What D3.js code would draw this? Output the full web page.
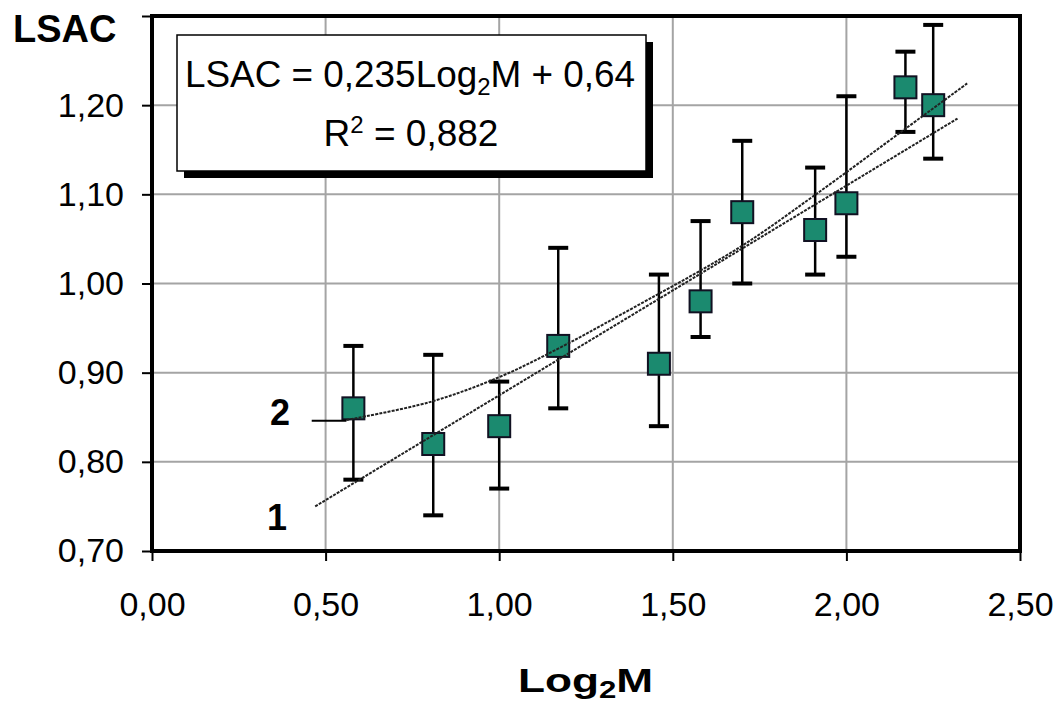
<!DOCTYPE html>
<html>
<head>
<meta charset="utf-8">
<script src="https://cdn.jsdelivr.net/npm/d3@7"></script>
<style>
  html, body { margin: 0; padding: 0; background: #fff; }
  text { font-family: "Liberation Sans", Arial, sans-serif; fill: #000; }
</style>
</head>
<body>
<div id="chart"></div>
<script>
// data
const xVals  = [0.58, 0.81, 1.00, 1.17, 1.46, 1.58, 1.70, 1.91, 2.00, 2.17, 2.25];
const yVals  = [0.86, 0.82, 0.84, 0.93, 0.91, 0.98, 1.08, 1.06, 1.09, 1.22, 1.20];
const yLow   = [0.78, 0.74, 0.77, 0.86, 0.84, 0.94, 1.00, 1.01, 1.03, 1.17, 1.14];
const yHigh  = [0.93, 0.92, 0.89, 1.04, 1.01, 1.07, 1.16, 1.13, 1.21, 1.26, 1.29];

// line 1 (linear fit) and curve 2
const line1X = [0.47, 2.32];
const line1Y = [0.75, 1.185];
const curve2X = [0.56, 0.80, 1.00, 1.175, 1.35, 1.69, 1.905, 2.175, 2.35];
const curve2Y = [0.847, 0.867, 0.895, 0.928, 0.965, 1.04, 1.098, 1.175, 1.225];
const leader2X = [0.46, 0.56];
const leader2Y = [0.846, 0.846];

const xTicks = [0, 0.5, 1.0, 1.5, 2.0, 2.5];
const yTicks = [0.7, 0.8, 0.9, 1.0, 1.1, 1.2, 1.3];
const yLabelTicks = [0.7, 0.8, 0.9, 1.0, 1.1, 1.2];

const W = 1057, H = 711;
const pLeft = 152, pRight = 1020, pTop = 16, pBottom = 551;

const x = d3.scaleLinear().domain([0, 2.5]).range([pLeft, pRight]);
const y = d3.scaleLinear().domain([0.7, 1.3]).range([pBottom, pTop]);

const fmt = d => d3.format(".2f")(d).replace(".", ",");

const svg = d3.select("#chart").append("svg")
    .attr("width", W)
    .attr("height", H);

// grid
svg.append("g").selectAll("line")
    .data(xTicks.slice(1, -1))
    .enter().append("line")
    .attr("x1", d => x(d)).attr("x2", d => x(d))
    .attr("y1", pTop).attr("y2", pBottom)
    .attr("stroke", "#a4a4a4").attr("stroke-width", 2);

svg.append("g").selectAll("line")
    .data(yTicks.slice(1, -1))
    .enter().append("line")
    .attr("x1", pLeft).attr("x2", pRight)
    .attr("y1", d => y(d)).attr("y2", d => y(d))
    .attr("stroke", "#a4a4a4").attr("stroke-width", 2);

// axes
const yAxis = svg.append("g")
    .attr("transform", "translate(" + pLeft + ",0)")
    .call(d3.axisLeft(y).tickValues(yTicks).tickSize(10).tickSizeOuter(0).tickPadding(18)
        .tickFormat(d => yLabelTicks.some(v => Math.abs(v - d) < 1e-9) ? fmt(d) : ""));
const xAxis = svg.append("g")
    .attr("transform", "translate(0," + pBottom + ")")
    .call(d3.axisBottom(x).tickValues(xTicks).tickSize(10).tickSizeOuter(0).tickPadding(31)
        .tickFormat(fmt));

[yAxis, xAxis].forEach(a => {
    a.select(".domain").remove();
    a.selectAll(".tick line").attr("stroke", "#000").attr("stroke-width", 2);
    a.selectAll(".tick text")
        .style("font-family", "'Liberation Sans', Arial, sans-serif")
        .style("font-size", "34px")
        .attr("fill", "#111");
});

// frame
svg.append("rect")
    .attr("x", pLeft).attr("y", pTop)
    .attr("width", pRight - pLeft).attr("height", pBottom - pTop)
    .attr("fill", "none").attr("stroke", "#000").attr("stroke-width", 4);

// error bars
const pts = xVals.map((v, i) => ({ x: v, y: yVals[i], lo: yLow[i], hi: yHigh[i] }));
const eb = svg.append("g");
eb.selectAll("line.stem").data(pts).enter().append("line")
    .attr("class", "stem")
    .attr("x1", d => x(d.x)).attr("x2", d => x(d.x))
    .attr("y1", d => y(d.hi)).attr("y2", d => y(d.lo))
    .attr("stroke", "#000").attr("stroke-width", 2.5);
eb.selectAll("line.capHi").data(pts).enter().append("line")
    .attr("class", "capHi")
    .attr("x1", d => x(d.x) - 10).attr("x2", d => x(d.x) + 10)
    .attr("y1", d => y(d.hi)).attr("y2", d => y(d.hi))
    .attr("stroke", "#000").attr("stroke-width", 4);
eb.selectAll("line.capLo").data(pts).enter().append("line")
    .attr("class", "capLo")
    .attr("x1", d => x(d.x) - 10).attr("x2", d => x(d.x) + 10)
    .attr("y1", d => y(d.lo)).attr("y2", d => y(d.lo))
    .attr("stroke", "#000").attr("stroke-width", 4);

// markers
svg.append("g").selectAll("rect").data(pts).enter().append("rect")
    .attr("x", d => x(d.x) - 11).attr("y", d => y(d.y) - 11)
    .attr("width", 22).attr("height", 22)
    .attr("fill", "#1b8a6f").attr("stroke", "#112").attr("stroke-width", 2);

// trend lines
const line1 = line1X.map((v, i) => [v, line1Y[i]]);
const curve2 = curve2X.map((v, i) => [v, curve2Y[i]]);
const leader2 = leader2X.map((v, i) => [v, leader2Y[i]]);

svg.append("path")
    .attr("d", d3.line().x(d => x(d[0])).y(d => y(d[1]))(line1))
    .attr("fill", "none").attr("stroke", "#222").attr("stroke-width", 2)
    .attr("stroke-dasharray", "3,1.2");
svg.append("path")
    .attr("d", d3.line().x(d => x(d[0])).y(d => y(d[1])).curve(d3.curveCatmullRom)(curve2))
    .attr("fill", "none").attr("stroke", "#222").attr("stroke-width", 2)
    .attr("stroke-dasharray", "3,1.2");
svg.append("path")
    .attr("d", d3.line().x(d => x(d[0])).y(d => y(d[1]))(leader2))
    .attr("fill", "none").attr("stroke", "#000").attr("stroke-width", 2);

// line labels
svg.append("text").attr("x", 280).attr("y", 425)
    .attr("text-anchor", "middle")
    .style("font-size", "36px").style("font-weight", "bold").text("2");
svg.append("text").attr("x", 277).attr("y", 530)
    .attr("text-anchor", "middle")
    .style("font-size", "36px").style("font-weight", "bold").text("1");

// equation box
svg.append("rect")
    .attr("x", 184).attr("y", 42).attr("width", 469).attr("height", 136)
    .attr("fill", "#000");
svg.append("rect")
    .attr("x", 177).attr("y", 35).attr("width", 469).attr("height", 136)
    .attr("fill", "#fff").attr("stroke", "#000").attr("stroke-width", 1.5);

const eq = svg.append("text")
    .attr("x", 410).attr("y", 87)
    .attr("text-anchor", "middle")
    .attr("textLength", 450).attr("lengthAdjust", "spacingAndGlyphs")
    .style("font-size", "37px").attr("fill", "#111");
eq.append("tspan").text("LSAC = 0,235Log");
eq.append("tspan").attr("dy", 8).style("font-size", "24px").text("2");
eq.append("tspan").attr("dy", -8).text("M  + 0,64");

const r2 = svg.append("text")
    .attr("x", 411).attr("y", 146)
    .attr("text-anchor", "middle")
    .style("font-size", "37px").attr("fill", "#111");
r2.append("tspan").text("R");
r2.append("tspan").attr("dy", -13).style("font-size", "24px").text("2");
r2.append("tspan").attr("dy", 13).text(" = 0,882");

// axis titles
svg.append("text").attr("x", 13).attr("y", 42)
    .style("font-size", "38px").style("font-weight", "bold").text("LSAC");

const xt = svg.append("text")
    .attr("transform", "translate(518,692) scale(1.3,1)")
    .style("font-size", "34px").style("font-weight", "bold");
xt.append("tspan").text("Log");
xt.append("tspan").attr("dy", 6).style("font-size", "24px").text("2");
xt.append("tspan").attr("dy", -6).text("M");
</script>
</body>
</html>
